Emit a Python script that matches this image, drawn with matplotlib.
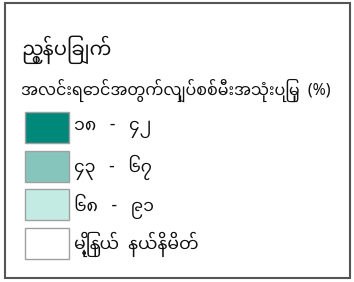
import matplotlib
matplotlib.use("Agg")
import matplotlib.pyplot as plt
from matplotlib.patches import Rectangle

title = "ညွှန်ပြချက်"
subtitle = "အလင်းရောင်အတွက်လျှပ်စစ်မီးအသုံးပြုမှု  (%)"
labels = ["၁၈   -   ၄၂", "၄၃   -   ၆၇", "၆၈   -   ၉၁", "မြို့နယ်  နယ်နိမိတ်"]
colors = ["#00897b", "#86c5bb", "#c3ebe4", "#ffffff"]

fam = ["Noto Sans Myanmar", "Padauk", "Myanmar Text", "Noto Sans", "DejaVu Sans"]

fig = plt.figure(figsize=(3.54, 2.82), dpi=100)
ax = fig.add_axes([0, 0, 1, 1])
ax.set_xlim(0, 354)
ax.set_ylim(282, 0)
ax.axis("off")

ax.add_patch(Rectangle((5, 3), 345, 275, fill=False, edgecolor="#555555", lw=1.5))
ax.text(21, 50, title, fontsize=14, family=fam, weight="bold", va="center", ha="left", color="#111111")
ax.text(21, 90, subtitle, fontsize=11.5, family=fam, weight="bold", va="center", ha="left", color="#111111")

y0 = 112
step = 38.5
for i, (lab, c) in enumerate(zip(labels, colors)):
    y = y0 + i * step
    ax.add_patch(Rectangle((25, y), 44, 31, facecolor=c, edgecolor="#a0a0a0", lw=1))
    ax.text(74, y + 17, lab, fontsize=12.5, family=fam, weight="bold", va="center", ha="left", color="#111111")

fig.savefig("out.png", dpi=100)
